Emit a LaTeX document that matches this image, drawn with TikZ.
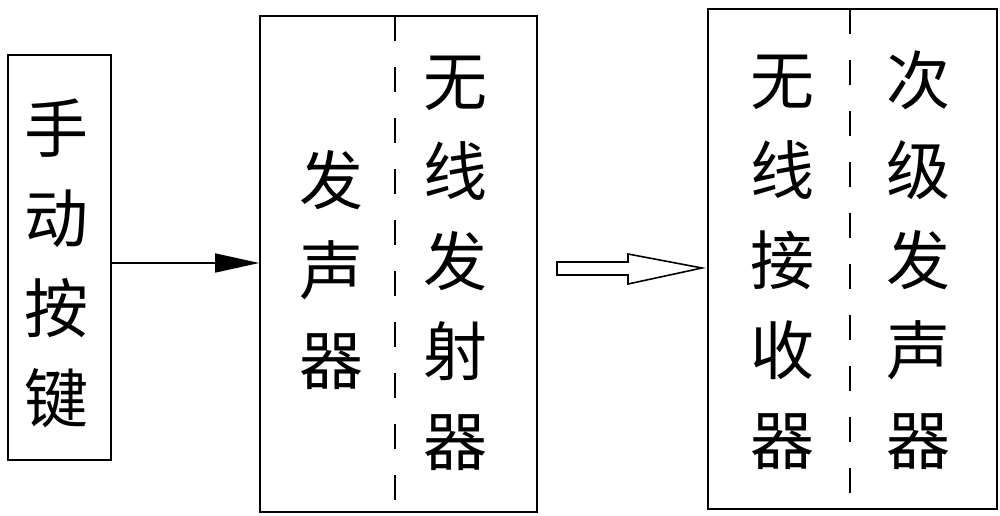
\documentclass[tikz,border=0pt]{standalone}
\usepackage{fontspec}
\newfontfamily\cjk{Noto Sans CJK SC}
\usetikzlibrary{arrows.meta}
\begin{document}
\begin{tikzpicture}[x=1pt,y=-1pt,
  box/.style={draw=black, line width=1.6pt, inner sep=0pt},
  divline/.style={draw=black, line width=1.4pt, dash pattern=on 25pt off 26pt},
  vtext/.style={align=center, inner sep=0pt, font=\cjk\fontsize{64}{90}\selectfont},
  conn/.style={draw=black, line width=1.4pt},
  hollow/.style={draw=black, line width=1.6pt, fill=white, line join=miter}]
\useasboundingbox (0,0) rectangle (1000,516);
% boxes
\node[box, minimum width=103pt, minimum height=405pt] (key) at (59.5,257.5) {};
\node[box, minimum width=277pt, minimum height=496pt] (mid) at (398.5,264) {};
\node[box, minimum width=289pt, minimum height=500pt] (rgt) at (852.5,259) {};
% dashed dividers
\coordinate (mdtop) at (395,16);
\coordinate (mdbot) at (395,512);
\coordinate (rdtop) at (850,9);
\coordinate (rdbot) at (850,509);
\draw[divline] (mdtop) -- (mdbot);
\draw[divline] (rdtop) -- (rdbot);
% texts
\node[vtext] (t1) at (56,263) {手\\动\\按\\键};
\node[vtext] (t2) at (331,270) {发\\声\\器};
\node[vtext] (t3) at (455,263) {无\\线\\发\\射\\器};
\node[vtext] (t4) at (782,262) {无\\线\\接\\收\\器};
\node[vtext] (t5) at (918,260) {次\\级\\发\\声\\器};
% solid arrow
\draw[conn, -{Triangle[length=44pt,width=19pt]}] (key.east |- 0,263) -- (mid.west |- 0,263);
% hollow arrow
\coordinate (ha) at (557,268.5);
\draw[hollow] (ha) ++(0,-6.5) -- ++(71,0) -- ++(0,-8) -- (702,268) -- (628,284) -- ++(0,-9) -- (557,275) -- cycle;
\end{tikzpicture}
\end{document}
